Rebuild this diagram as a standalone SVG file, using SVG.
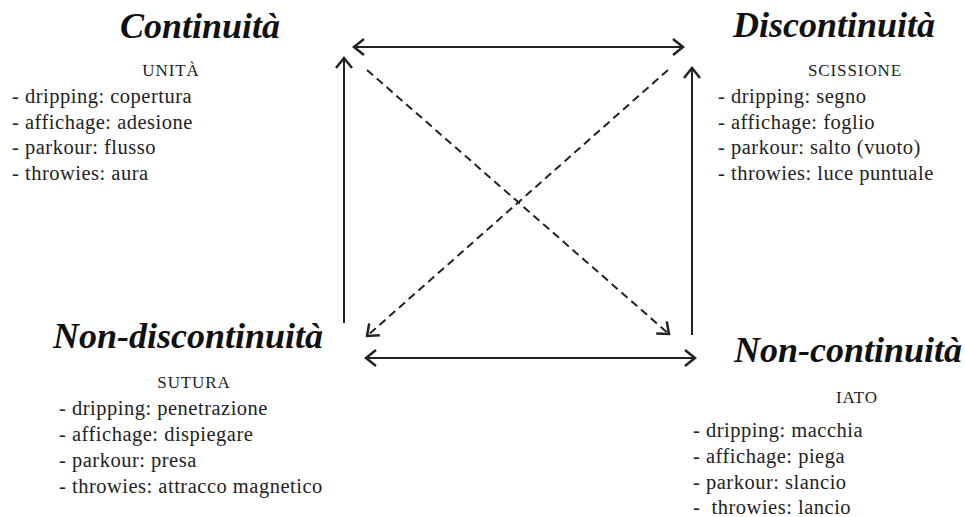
<svg xmlns="http://www.w3.org/2000/svg" width="965" height="517" viewBox="0 0 965 517">
<style>
text{font-family:'Liberation Serif','Times New Roman',Tinos,'DejaVu Serif',serif}
.title{font-weight:bold;font-style:italic;font-size:36px;fill:#111}
.head{font-size:17px;letter-spacing:0.9px;fill:#222}
.item{font-size:20.5px;letter-spacing:0.5px;fill:#222;white-space:pre}
.edge{stroke:#222;stroke-width:2;fill:none}
.dash{stroke-dasharray:8 5}
</style>
<defs>
<marker id="arr" markerUnits="userSpaceOnUse" viewBox="-14 -10 16 20" refX="0" refY="0" markerWidth="16" markerHeight="20" orient="auto-start-reverse">
<path d="M -10 -8 L 0 0 L -10 8" fill="none" stroke="#222" stroke-width="2.5"/>
</marker>
</defs>
<rect width="965" height="517" fill="#fff"/>
<g id="connectors">
<line class="edge" x1="354" y1="47" x2="683" y2="47" marker-start="url(#arr)" marker-end="url(#arr)"/>
<line class="edge" x1="366" y1="358" x2="695" y2="358" marker-start="url(#arr)" marker-end="url(#arr)"/>
<line class="edge" x1="344" y1="323" x2="344" y2="58" marker-end="url(#arr)"/>
<line class="edge" x1="692" y1="335" x2="692" y2="68" marker-end="url(#arr)"/>
<line class="edge dash" x1="367" y1="70" x2="669" y2="334" marker-end="url(#arr)"/>
<line class="edge dash" x1="668" y1="70" x2="367" y2="336" marker-end="url(#arr)"/>
</g>
<g id="continuita">
<text class="title" x="200" y="38" text-anchor="middle">Continuità</text>
<text class="head" x="171" y="76" text-anchor="middle">UNITÀ</text>
<text class="item" x="12" y="103">- dripping: copertura</text>
<text class="item" x="12" y="129">- affichage: adesione</text>
<text class="item" x="12" y="154">- parkour: flusso</text>
<text class="item" x="12" y="180">- throwies: aura</text>
</g>
<g id="discontinuita">
<text class="title" x="834" y="37" text-anchor="middle">Discontinuità</text>
<text class="head" x="855" y="76" text-anchor="middle">SCISSIONE</text>
<text class="item" x="718" y="103">- dripping: segno</text>
<text class="item" x="718" y="129">- affichage: foglio</text>
<text class="item" x="718" y="154">- parkour: salto (vuoto)</text>
<text class="item" x="718" y="180">- throwies: luce puntuale</text>
</g>
<g id="non-discontinuita">
<text class="title" x="188" y="348" text-anchor="middle">Non-discontinuità</text>
<text class="head" x="194" y="388" text-anchor="middle">SUTURA</text>
<text class="item" x="59" y="415">- dripping: penetrazione</text>
<text class="item" x="59" y="441">- affichage: dispiegare</text>
<text class="item" x="59" y="467">- parkour: presa</text>
<text class="item" x="59" y="493">- throwies: attracco magnetico</text>
</g>
<g id="non-continuita">
<text class="title" x="848" y="362" text-anchor="middle">Non-continuità</text>
<text class="head" x="857" y="403" text-anchor="middle">IATO</text>
<text class="item" x="693" y="437">- dripping: macchia</text>
<text class="item" x="693" y="463">- affichage: piega</text>
<text class="item" x="693" y="489">- parkour: slancio</text>
<text class="item" x="693" y="514">-  throwies: lancio</text>
</g>
</svg>
